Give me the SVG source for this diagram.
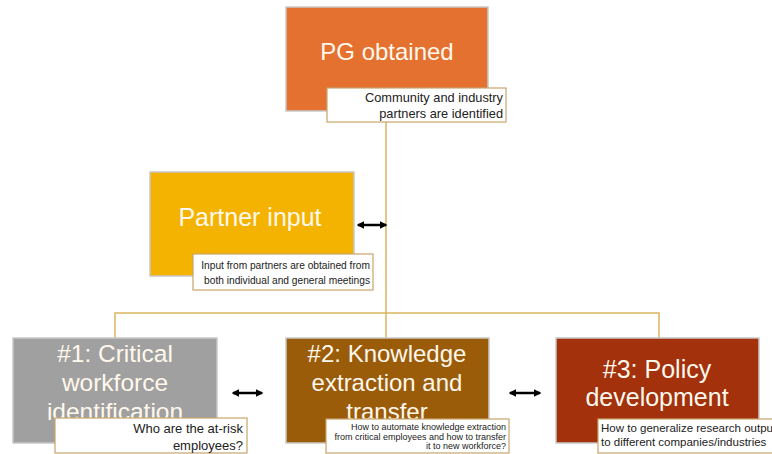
<svg xmlns="http://www.w3.org/2000/svg" width="772" height="454" viewBox="0 0 772 454">
<defs>
<style>
.box{stroke:#c8c8c8;stroke-width:1.5}
.t{font-family:"Liberation Sans",Arial,sans-serif;fill:#fff8ec;text-anchor:middle}
.cap{fill:#fff;stroke:#c9a56b;stroke-width:1.2}
.ct{font-family:"Liberation Sans",Arial,sans-serif;fill:#222;text-anchor:end}
.ln{fill:none;stroke:#d9b560;stroke-width:1.5}
.ar{stroke:#000;stroke-width:2.5;marker-start:url(#ah);marker-end:url(#ah)}
</style>
<marker id="ah" viewBox="0 0 10 10" refX="8" refY="5" markerWidth="3" markerHeight="3" orient="auto-start-reverse"><path d="M0,0 L10,5 L0,10 z" fill="#000"/></marker>
<linearGradient id="cg" x1="0" y1="0" x2="0" y2="1"><stop offset="0" stop-color="#ffffff"/><stop offset="1" stop-color="#f3f3f3"/></linearGradient>
</defs>
<g id="connectors">
<path class="ln" d="M386,122 V313"/>
<path class="ln" d="M115,338 V313 H659 V338"/>
<path class="ln" d="M386,313 V338"/>
<line class="ar" x1="358" y1="225" x2="386" y2="225"/>
<line class="ar" x1="233" y1="393" x2="262" y2="393"/>
<line class="ar" x1="510" y1="393" x2="540" y2="393"/>
</g>
<g id="pg">
<rect class="box" x="286" y="7" width="202" height="104" fill="#e4712f"/>
<text class="t" x="387" y="60" font-size="24">PG obtained</text>
<rect class="cap" x="327" y="88" width="179" height="34" fill="url(#cg)"/>
<text class="ct" x="503" y="102" font-size="12.8">Community and industry</text>
<text class="ct" x="503" y="118" font-size="12.8">partners are identified</text>
</g>
<g id="partner">
<rect class="box" x="150" y="172" width="204" height="104" fill="#f3b300"/>
<text class="t" x="250" y="226" font-size="25">Partner input</text>
<rect class="cap" x="193" y="254" width="180" height="36" fill="url(#cg)"/>
<text class="ct" x="370" y="269" font-size="10.2">Input from partners are obtained from</text>
<text class="ct" x="370" y="284" font-size="10.2">both individual and general meetings</text>
</g>
<g id="n1">
<rect class="box" x="13" y="338" width="204" height="105" fill="#a0a0a0"/>
<text class="t" x="115" y="362" font-size="24.5">#1: Critical</text>
<text class="t" x="115" y="391" font-size="24.5">workforce</text>
<text class="t" x="115" y="420" font-size="24.5">identification</text>
<rect class="cap" x="55" y="418" width="192" height="35" fill="url(#cg)"/>
<text class="ct" x="243" y="433" font-size="13">Who are the at-risk</text>
<text class="ct" x="243" y="450" font-size="13">employees?</text>
</g>
<g id="n2">
<rect class="box" x="286" y="338" width="203" height="105" fill="#9b5c09"/>
<text class="t" x="387" y="362" font-size="24">#2: Knowledge</text>
<text class="t" x="387" y="391" font-size="24">extraction and</text>
<text class="t" x="387" y="420" font-size="24">transfer</text>
<rect class="cap" x="326" y="419" width="183" height="34" fill="url(#cg)"/>
<text class="ct" x="506" y="430" font-size="9">How to automate knowledge extraction</text>
<text class="ct" x="506" y="439.5" font-size="9">from critical employees and how to transfer</text>
<text class="ct" x="506" y="449" font-size="9">it to new workforce?</text>
</g>
<g id="n3">
<rect class="box" x="556" y="338" width="203" height="105" fill="#a2310c"/>
<text class="t" x="657" y="378" font-size="25">#3: Policy</text>
<text class="t" x="657" y="406" font-size="25">development</text>
<rect class="cap" x="598" y="419" width="180" height="34" fill="url(#cg)"/>
<text x="601" y="432" font-size="11.5" font-family="Liberation Sans, Arial, sans-serif" fill="#222">How to generalize research output</text>
<text x="601" y="446" font-size="11.5" font-family="Liberation Sans, Arial, sans-serif" fill="#222">to different companies/industries</text>
</g>
</svg>
